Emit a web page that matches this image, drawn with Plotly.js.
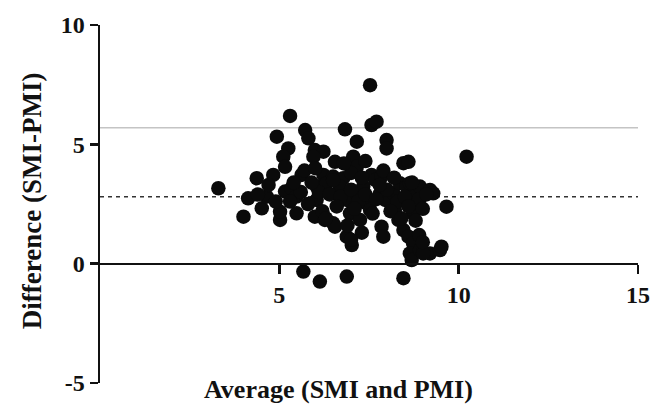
<!DOCTYPE html>
<html>
<head>
<meta charset="utf-8">
<script src="https://cdn.plot.ly/plotly-3.0.1.min.js"></script>
<style>html,body{margin:0;padding:0;background:#fff;}#chart{width:658px;height:408px;}</style>
</head>
<body>
<div id="chart"></div>
<script>
// Average (SMI and PMI)
var avg = [7.53,5.30,7.57,7.71,6.83,5.72,4.93,5.81,7.16,7.99,7.99,5.25,5.11,5.99,6.23,5.95,6.55,7.06,8.46,8.60,
  5.16,4.83,4.37,5.62,7.16,3.30,4.00,4.13,4.51,4.65,5.02,5.02,5.16,5.34,5.48,5.48,6.04,6.23,6.32,6.04,
  5.99,6.27,6.50,6.55,6.60,6.50,6.78,6.69,6.88,6.97,6.88,7.02,7.25,7.16,7.34,7.43,7.53,7.57,7.67,7.85,
  7.81,7.95,7.85,7.90,8.18,8.22,8.32,8.36,8.55,8.73,8.83,8.92,8.73,8.46,8.60,8.73,8.64,8.69,8.92,9.20,
  9.48,9.20,9.29,9.66,10.22,8.64,9.52,9.01,5.67,6.13,6.88,8.46,
  6.10,6.40,6.70,7.00,7.20,7.40,7.70,8.00,8.30,8.50,8.90,9.00,8.60,8.10,7.60,7.10,6.60,6.20,5.80,5.60,
  5.90,6.50,7.00,7.30,7.90,8.70,9.10,8.80,8.40,6.90,7.30,6.30,5.30,4.90,4.40,5.70,6.80,7.40,7.00,8.90,
  9.00,5.40,4.70,6.00,7.80,8.20];
// Difference (SMI-PMI)
var diff = [7.48,6.19,5.81,5.95,5.63,5.60,5.32,5.25,5.11,5.18,4.83,4.83,4.48,4.76,4.69,4.48,4.27,4.48,4.21,4.27,
  4.06,3.72,3.58,3.72,4.06,3.16,1.97,2.74,2.32,2.81,1.83,2.18,3.02,3.16,2.81,2.11,3.23,3.72,3.37,2.67,
  1.97,1.83,1.69,1.55,2.95,3.65,3.58,3.23,2.67,2.11,1.13,0.78,1.83,2.95,3.23,2.53,2.25,3.72,3.51,3.65,
  2.95,2.67,1.55,1.13,2.95,2.25,1.83,3.37,3.23,2.95,2.53,3.23,2.11,1.41,1.13,0.85,0.43,0.15,0.57,0.43,
  0.57,3.09,2.95,2.39,4.48,3.37,0.71,0.43,-0.33,-0.75,-0.54,-0.61,
  3.00,2.90,2.80,3.10,2.60,2.90,2.70,3.10,2.60,2.80,2.70,2.30,2.40,2.20,2.10,2.30,2.40,2.20,2.50,3.00,
  3.40,3.50,3.80,3.60,3.90,3.40,2.90,1.80,1.90,1.60,1.30,1.90,2.60,2.60,2.90,3.90,4.20,4.30,1.00,1.20,
  0.90,3.40,3.30,4.00,3.30,3.60];
var meanDiff = 2.8;
var upperLoA = 5.7;
var xTicks = [5, 10, 15];
var yTicks = [-5, 0, 5, 10];
var xTitle = 'Average (SMI and PMI)';
var yTitle = 'Difference (SMI-PMI)';

var serif = 'Liberation Serif, Times New Roman, serif';
var trace = {
  x: avg, y: diff, type: 'scatter', mode: 'markers',
  marker: {color: '#0a0a0a', size: 14.5, line: {width: 0}},
  hoverinfo: 'x+y', cliponaxis: false
};
var layout = {
  width: 658, height: 408,
  margin: {l: 100, r: 20, t: 25, b: 25},
  paper_bgcolor: '#fff', plot_bgcolor: '#fff',
  showlegend: false,
  xaxis: {
    range: [0, 15], anchor: 'free', position: 1/3,
    showgrid: false, zeroline: false, showline: true, linecolor: '#111', linewidth: 2.5,
    ticks: 'outside', ticklen: 9, tickwidth: 2.5, tickcolor: '#111',
    tickmode: 'array', tickvals: xTicks, ticktext: xTicks.map(String),
    tickfont: {family: serif, size: 24, color: '#111', weight: 700}
  },
  yaxis: {
    range: [-5, 10],
    showgrid: false, zeroline: false, showline: true, linecolor: '#111', linewidth: 2.5,
    ticks: 'outside', ticklen: 8, tickwidth: 2.5, tickcolor: '#111',
    tickmode: 'array', tickvals: yTicks, ticktext: yTicks.map(String),
    tickfont: {family: serif, size: 24, color: '#111', weight: 700}
  },
  shapes: [
    {type: 'line', xref: 'x', yref: 'y', x0: 0, x1: 15, y0: upperLoA, y1: upperLoA,
     line: {color: '#c4c4c4', width: 1.5, dash: 'solid'}, layer: 'below'},
    {type: 'line', xref: 'x', yref: 'y', x0: 0, x1: 15, y0: meanDiff, y1: meanDiff,
     line: {color: '#333', width: 1.5, dash: '4px,4px'}, layer: 'below'}
  ],
  annotations: [
    {text: xTitle, xref: 'x', yref: 'paper', x: 6.65, y: -0.017, xanchor: 'center', yanchor: 'middle',
     showarrow: false, font: {family: serif, size: 26, color: '#111', weight: 700}},
    {text: yTitle, xref: 'paper', yref: 'paper', x: -0.125, y: 0.51, xanchor: 'center', yanchor: 'middle',
     textangle: -90, showarrow: false, font: {family: serif, size: 27, color: '#111', weight: 700}}
  ]
};
Plotly.newPlot('chart', [trace], layout, {displayModeBar: false, staticPlot: true});
</script>
</body>
</html>
